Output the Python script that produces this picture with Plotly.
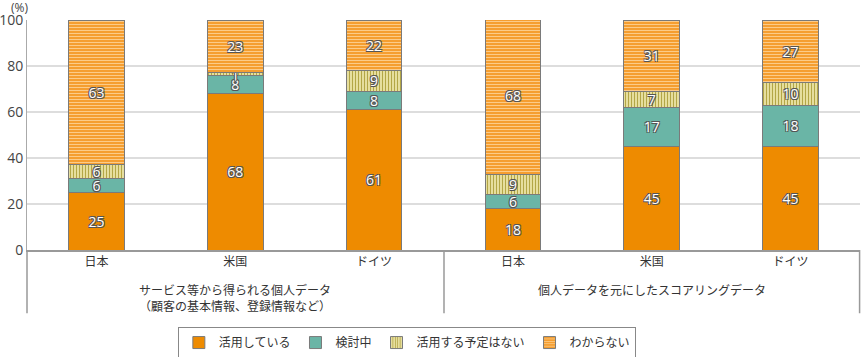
import plotly.graph_objects as go

categories = ["日本", "米国", "ドイツ", "日本 ", "米国 ", "ドイツ "]
tick_labels = ["日本", "米国", "ドイツ", "日本", "米国", "ドイツ"]
group_labels = ["サービス等から得られる個人データ<br>（顧客の基本情報、登録情報など）",
                "個人データを元にしたスコアリングデータ"]

using = [25, 68, 61, 18, 45, 45]
considering = [6, 8, 8, 6, 17, 18]
no_plan = [6, 1, 9, 9, 7, 10]
unknown = [63, 23, 22, 68, 31, 27]

series_names = ["活用している", "検討中", "活用する予定はない", "わからない"]

FONT = "Noto Sans CJK JP"
shadow = "-1px -1px 0 #555, 1px -1px 0 #555, -1px 1px 0 #555, 1px 1px 0 #555"

styles = [
    dict(color="#EE8B00", pattern=None),
    dict(color="#6AB5A6", pattern=None),
    dict(color="#E2D68A", pattern=dict(shape="|", fgcolor="#B3A646", bgcolor="#ECE4A8",
                                       size=3, solidity=0.4, fillmode="replace")),
    dict(color="#F6A33A", pattern=dict(shape="-", fgcolor="#FCCB88", bgcolor="#F59E30",
                                       size=3, solidity=0.35, fillmode="replace")),
]

fig = go.Figure()
for name, vals, st in zip(series_names, [using, considering, no_plan, unknown], styles):
    marker = dict(color=st["color"], line=dict(color="#7a7a7a", width=1))
    if st["pattern"]:
        marker["pattern"] = st["pattern"]
    fig.add_trace(go.Bar(
        x=categories, y=vals, name=name, marker=marker, width=0.4,
        text=[str(v) for v in vals], textposition="inside", insidetextanchor="middle",
        textangle=0, constraintext="none",
        textfont=dict(family="Open Sans", size=14, color="white", shadow=shadow),
        hoverinfo="skip",
    ))

fig.update_layout(
    barmode="stack",
    width=861, height=357,
    margin=dict(l=27, r=1, t=20, b=107, autoexpand=False),
    paper_bgcolor="white", plot_bgcolor="white",
    font=dict(family=FONT, color="#333333", size=12),
    uniformtext=dict(minsize=14, mode="show"),
    showlegend=True,
    legend=dict(orientation="h", x=0.456, xanchor="center", y=-0.335, yanchor="top",
                bordercolor="#888888", borderwidth=1, traceorder="normal",
                font=dict(size=12, family=FONT, color="#333333"),
                itemwidth=30, tracegroupgap=0),
)
fig.update_xaxes(
    type="category", range=[-0.5, 5.5], automargin=False,
    tickvals=categories, ticktext=tick_labels,
    tickfont=dict(size=12, family=FONT, color="#333333"),
    showline=True, linecolor="#999999", linewidth=1.5,
    ticks="", showgrid=False,
)
fig.update_yaxes(
    range=[0, 100], tickvals=[0, 20, 40, 60, 80, 100], automargin=False,
    tickfont=dict(size=14, family="Open Sans", color="#444444"),
    showgrid=True, gridcolor="#dddddd", gridwidth=1.5,
    showline=True, linecolor="#aaaaaa", linewidth=1,
    ticks="", zeroline=False,
)

# group dividers
for xp in [0, 0.5006, 0.9995]:
    fig.add_shape(type="line", xref="paper", yref="paper", x0=xp, x1=xp, y0=0, y1=-0.275,
                  line=dict(color="#999999", width=1.5))

fig.add_annotation(text=group_labels[0], xref="paper", yref="paper", x=0.25, y=-0.125,
                   xanchor="center", yanchor="top", showarrow=False,
                   font=dict(size=12, family=FONT, color="#333333"))
fig.add_annotation(text=group_labels[1], xref="paper", yref="paper", x=0.75, y=-0.125,
                   xanchor="center", yanchor="top", showarrow=False,
                   font=dict(size=12, family=FONT, color="#333333"))
fig.add_annotation(text="(%)", xref="paper", yref="paper", x=-0.0096, y=1.0, yanchor="bottom",
                   xanchor="center", yshift=3, borderpad=0, showarrow=False,
                   font=dict(size=12, family="Open Sans", color="#444444"))

fig.write_html("out.html", config={"displayModeBar": False},
               post_script="document.body.style.margin='0';document.body.style.overflow='hidden';")
